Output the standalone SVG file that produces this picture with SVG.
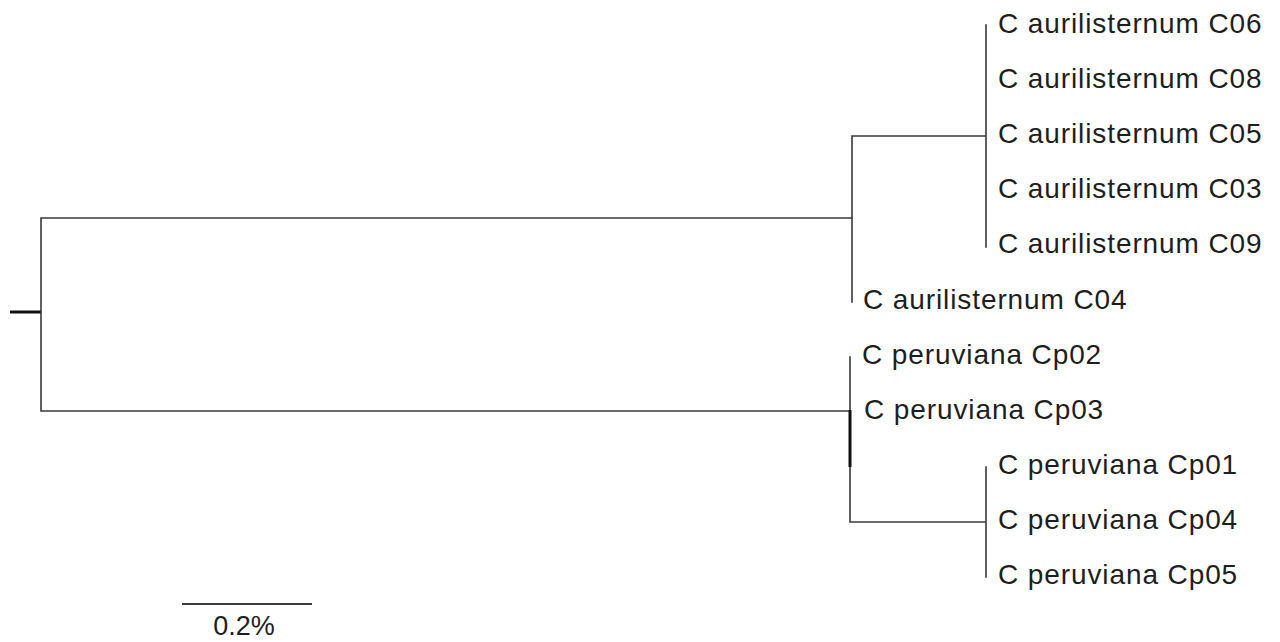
<svg xmlns="http://www.w3.org/2000/svg" width="1280" height="642" viewBox="0 0 1280 642">
<style>
.br{stroke:#3a3a3a;stroke-width:1.6;fill:none;stroke-linecap:square}
.lb{font-family:"Liberation Sans",Arial,sans-serif;font-size:28px;fill:#1e1e1e;letter-spacing:0.9px}
</style>
<rect width="1280" height="642" fill="#ffffff"/>
<g id="connectors">
<line x1="10" y1="312" x2="41" y2="312" stroke="#111" stroke-width="3"/>
<path class="br" d="M41 218 V411 M41 218 H852 M41 411 H850"/>
<path class="br" d="M852 136 V302 M852 136 H986 M986 25 V247"/>
<path class="br" d="M850 357 V522 M850 522 H986 M986 467 V577"/>
<line x1="850" y1="410" x2="850" y2="467" stroke="#111" stroke-width="3"/>
<line x1="182" y1="604" x2="312" y2="604" stroke="#3a3a3a" stroke-width="2"/>
</g>
<g id="C06"><text class="lb" x="998" y="33">C aurilisternum C06</text></g>
<g id="C08"><text class="lb" x="998" y="88">C aurilisternum C08</text></g>
<g id="C05"><text class="lb" x="998" y="143">C aurilisternum C05</text></g>
<g id="C03"><text class="lb" x="998" y="198">C aurilisternum C03</text></g>
<g id="C09"><text class="lb" x="998" y="253">C aurilisternum C09</text></g>
<g id="C04"><text class="lb" x="863" y="309">C aurilisternum C04</text></g>
<g id="Cp02"><text class="lb" x="862" y="364">C peruviana Cp02</text></g>
<g id="Cp03"><text class="lb" x="864" y="419">C peruviana Cp03</text></g>
<g id="Cp01"><text class="lb" x="998" y="474">C peruviana Cp01</text></g>
<g id="Cp04"><text class="lb" x="998" y="529">C peruviana Cp04</text></g>
<g id="Cp05"><text class="lb" x="998" y="584">C peruviana Cp05</text></g>
<g id="scale"><text x="244" y="635" text-anchor="middle" font-family="Liberation Sans,Arial,sans-serif" font-size="27" fill="#1e1e1e">0.2%</text></g>
</svg>
